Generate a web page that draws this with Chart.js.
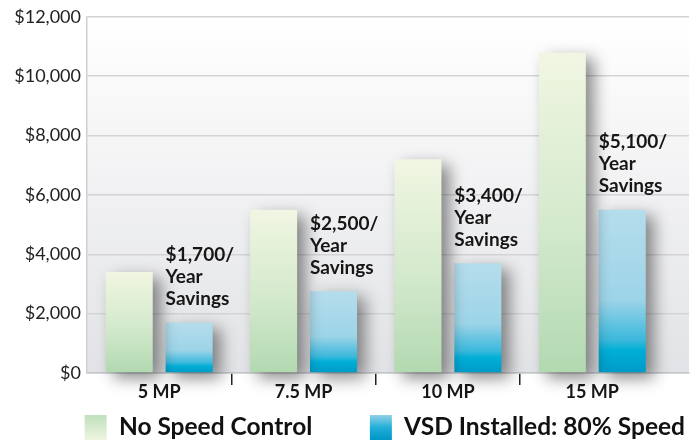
<!DOCTYPE html>
<html>
<head>
<meta charset="utf-8">
<script src="https://cdn.jsdelivr.net/npm/chart.js@4"></script>
<style>
  html, body { margin: 0; padding: 0; background: #fff; }
  #wrap { width: 692px; height: 442px; }
</style>
</head>
<body>
<div id="wrap"><canvas id="savingsChart"></canvas></div>
<script>
// motor sizes along the bottom
var categories = ['5 MP', '7.5 MP', '10 MP', '15 MP'];
// yearly running cost
var noSpeedControl = [3400, 5500, 7200, 10800];
var vsdInstalled = [1700, 2750, 3700, 5500];
// text written above each blue bar
var savingsText = ['$1,700/', '$2,500/', '$3,400/', '$5,100/'];
var seriesNames = ['No Speed Control', 'VSD Installed: 80% Speed'];

var FONT = 'Lato, "Open Sans", "DejaVu Sans", sans-serif';

// vertical gradient from the top of a bar down to the zero line
function barFill(stops, fallback) {
  return function (ctx) {
    var chart = ctx.chart;
    if (!chart.chartArea || ctx.type !== 'data') return fallback;
    var y = chart.scales.y;
    var top = y.getPixelForValue(ctx.raw.y);
    var bottom = y.getPixelForValue(0);
    if (bottom - top < 1) return fallback;
    var g = chart.ctx.createLinearGradient(0, top, 0, bottom);
    stops.forEach(function (s) { g.addColorStop(s[0], s[1]); });
    return g;
  };
}

var greenStops = [[0, '#f1f6e2'], [0.55, '#d3e9cc'], [1, '#b2d9b1']];
var blueStops = [[0, '#b5ddec'], [0.55, '#9dd4e8'], [0.8, '#3ab8dc'], [0.86, '#00afd6'], [1, '#009ac7']];

var plotBackground = {
  id: 'plotBackground',
  beforeDraw: function (chart) {
    var c = chart.ctx, a = chart.chartArea;
    c.save();
    var g = c.createLinearGradient(0, a.top, 0, a.bottom);
    g.addColorStop(0, '#ffffff');
    g.addColorStop(1, '#e2e3e6');
    c.fillStyle = g;
    c.fillRect(a.left, a.top, a.right - a.left, a.bottom - a.top);
    c.restore();
  }
};

var barShadow = {
  id: 'barShadow',
  beforeDatasetsDraw: function (chart) {
    var c = chart.ctx;
    c.save();
    c.shadowColor = 'rgba(0,0,0,0.45)';
    c.shadowBlur = 16;
    c.shadowOffsetX = 8;
    c.shadowOffsetY = 6;
  },
  afterDatasetsDraw: function (chart) {
    chart.ctx.restore();
  }
};

var savingsLabels = {
  id: 'savingsLabels',
  afterDraw: function (chart) {
    var c = chart.ctx;
    var meta = chart.getDatasetMeta(1);
    c.save();
    c.font = 'bold 19px ' + FONT;
    c.fillStyle = '#161616';
    c.textAlign = 'left';
    c.textBaseline = 'top';
    meta.data.forEach(function (bar, i) {
      var x = bar.x - bar.width / 2;
      var y = bar.y - 77;
      [savingsText[i], 'Year', 'Savings'].forEach(function (line, j) {
        c.fillText(line, x, y + j * 22);
      });
    });
    c.restore();
  }
};

new Chart(document.getElementById('savingsChart'), {
  type: 'bar',
  data: {
    datasets: [
      {
        label: seriesNames[0],
        data: noSpeedControl.map(function (v, i) { return { x: i, y: v }; }),
        backgroundColor: barFill(greenStops, '#c8e4c2'),
        clip: false
      },
      {
        label: seriesNames[1],
        data: vsdInstalled.map(function (v, i) { return { x: i, y: v }; }),
        backgroundColor: barFill(blueStops, '#4fbfe0'),
        clip: false
      }
    ]
  },
  options: {
    responsive: true,
    maintainAspectRatio: false,
    animation: false,
    // the half-step tick marks halve the bar ruler, hence > 1
    categoryPercentage: 1.66,
    barPercentage: 0.785,
    layout: { padding: { top: 16, right: 3, left: 0, bottom: -8 } },
    plugins: {
      tooltip: { enabled: false },
      legend: {
        position: 'bottom',
        align: 'end',
        labels: {
          boxWidth: 22,
          boxHeight: 25,
          padding: 4,
          color: '#111',
          font: { family: FONT, size: 24.5, weight: 'bold' },
          generateLabels: function (chart) {
            var items = Chart.defaults.plugins.legend.labels.generateLabels(chart);
            var h = chart.height;
            var fills = [
              [[0, '#bfe0bd'], [1, '#eef6e0']],
              [[0, '#93d0e8'], [0.5, '#22aed8'], [1, '#0096c6']]
            ];
            items.forEach(function (it, i) {
              var g = chart.ctx.createLinearGradient(0, h - 27, 0, h - 2);
              fills[i].forEach(function (s) { g.addColorStop(s[0], s[1]); });
              it.fillStyle = g;
              it.strokeStyle = 'rgba(0,0,0,0)';
              it.lineWidth = 0;
              if (i === 0) it.text = it.text + '         ';
            });
            return items;
          }
        }
      }
    },
    scales: {
      x: {
        type: 'linear',
        offset: false,
        min: -0.5,
        max: 3.67,
        afterBuildTicks: function (scale) {
          var t = [];
          for (var v = 0; v <= 3; v += 0.5) t.push({ value: v });
          scale.ticks = t;
        },
        afterFit: function (scale) { scale.height = 38; },
        border: { color: '#c4c5c8', width: 1.5 },
        grid: {
          offset: false,
          drawOnChartArea: false,
          drawTicks: true,
          tickLength: 12,
          lineWidth: 1.5,
          color: function (ctx) {
            return ctx.tick && ctx.tick.value % 1 !== 0 ? '#222' : 'rgba(0,0,0,0)';
          }
        },
        ticks: {
          autoSkip: false,
          maxRotation: 0,
          padding: -4,
          color: '#161616',
          font: { family: FONT, size: 18, weight: 'bold' },
          callback: function (v) {
            return v % 1 === 0 ? categories[v] : '';
          }
        }
      },
      y: {
        min: 0,
        max: 12000,
        afterFit: function (scale) { scale.width = 87; },
        border: { color: '#cfd0d3', width: 1.5 },
        grid: { color: '#d3d4d6', lineWidth: 1.5, drawTicks: false },
        ticks: {
          stepSize: 2000,
          padding: 6,
          color: '#222',
          font: { family: FONT, size: 18 },
          callback: function (v) { return '$' + v.toLocaleString('en-US'); }
        }
      }
    }
  },
  plugins: [plotBackground, barShadow, savingsLabels]
});
</script>
</body>
</html>
